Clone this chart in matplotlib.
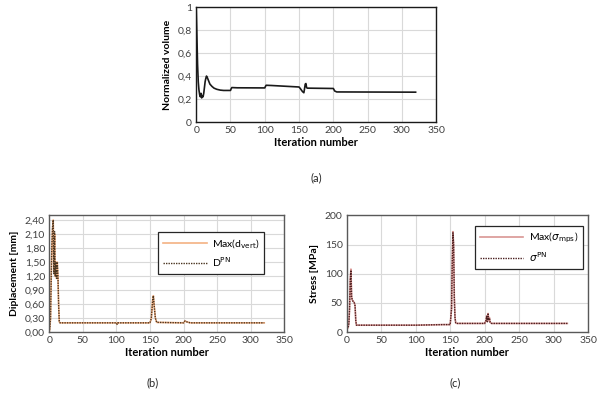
import numpy as np
import matplotlib
matplotlib.use('Agg')
import matplotlib.pyplot as plt
from matplotlib.ticker import FuncFormatter

plt.rcParams['font.family'] = ['Lato', 'DejaVu Sans']
plt.rcParams['mathtext.fontset'] = 'dejavusans'

# (a) normalized volume history
vol_iter = [0, 1, 2, 3, 4, 5, 6, 7, 8, 9, 10, 11, 12, 13, 14, 15, 16, 18, 20, 23, 26, 30,
            35, 40, 50, 51, 52, 60, 100, 101, 102, 110, 150, 152, 155, 157, 158, 159, 160,
            161, 162, 200, 202, 205, 320]
vol_val = [1.0, 0.75, 0.5, 0.35, 0.28, 0.24, 0.22, 0.25, 0.21, 0.23, 0.22, 0.25, 0.30, 0.35,
           0.38, 0.40, 0.39, 0.36, 0.33, 0.31, 0.295, 0.285, 0.278, 0.275, 0.275, 0.29, 0.30,
           0.298, 0.297, 0.31, 0.32, 0.318, 0.305, 0.29, 0.265, 0.255, 0.29, 0.33, 0.335,
           0.30, 0.295, 0.292, 0.27, 0.262, 0.26]

# (b) displacement history
disp_iter = [0, 1, 2, 3, 4, 5, 6, 7, 8, 9, 10, 11, 12, 13, 14, 15, 16, 60, 100, 101, 102,
             150, 152, 154, 155, 156, 158, 160, 200, 202, 205, 210, 320]
disp_max = [0.0, 0.1, 0.3, 1.2, 1.8, 2.2, 2.4, 1.3, 2.1, 1.2, 1.5, 1.15, 1.5, 1.2, 0.6, 0.22,
            0.2, 0.2, 0.2, 0.17, 0.2, 0.2, 0.3, 0.7, 0.78, 0.6, 0.3, 0.21, 0.2, 0.24, 0.22,
            0.2, 0.2]
disp_pn = [0.0, 0.1, 0.3, 1.15, 1.9, 2.25, 2.4, 1.25, 2.15, 1.2, 1.5, 1.15, 1.5, 1.2, 0.6,
           0.22, 0.2, 0.2, 0.2, 0.17, 0.2, 0.2, 0.3, 0.7, 0.78, 0.6, 0.3, 0.21, 0.2, 0.24,
           0.22, 0.2, 0.2]

# (c) stress history
stress_iter = [0, 2, 3, 4, 5, 6, 7, 8, 9, 10, 11, 12, 13, 14, 100, 140, 150, 152, 153, 154,
               155, 156, 157, 158, 160, 200, 202, 203, 204, 205, 206, 207, 208, 210, 320]
stress_max = [5, 8, 15, 40, 90, 108, 60, 55, 53, 52, 50, 45, 20, 12, 12, 13, 13, 40, 120, 172,
              150, 60, 25, 16, 15, 15, 20, 28, 18, 32, 20, 25, 17, 15, 15]
stress_pn = [5, 8, 15, 40, 88, 106, 60, 55, 53, 52, 50, 45, 20, 12, 12, 13, 13, 40, 120, 170,
             150, 60, 25, 16, 15, 15, 20, 27, 18, 31, 20, 24, 17, 15, 15]

x_ticks = np.arange(0, 351, 50)


def comma(fmt):
    return FuncFormatter(lambda v, p: (fmt % v).replace('.', ','))


def style_axes(ax, edge):
    ax.set_xlim(0, 350)
    ax.set_xticks(x_ticks)
    ax.grid(True, color='#d9d9d9', linewidth=0.8)
    ax.set_axisbelow(True)
    ax.tick_params(length=0, labelsize=7.5, colors='#404040', pad=3)
    for s in ax.spines.values():
        s.set_color(edge)
        s.set_linewidth(1.0)
    ax.set_xlabel('Iteration number', fontsize=8, fontweight='bold', labelpad=1)


def add_legend(ax, anchor):
    leg = ax.legend(loc='upper left', bbox_to_anchor=anchor, borderaxespad=0, fontsize=7.5,
                    handlelength=4.2, handletextpad=0.5, fancybox=False,
                    edgecolor='#262626', framealpha=1, borderpad=0.45, labelspacing=0.45)
    leg.get_frame().set_linewidth(0.9)


fig = plt.figure(figsize=(6, 3.95), dpi=100)

ax_a = fig.add_axes([0.327, 0.691, 0.400, 0.291])
ax_a.plot(vol_iter, vol_val, color='#1a1a1a', linewidth=1.2)
style_axes(ax_a, '#1a1a1a')
ax_a.set_ylim(0, 1)
ax_a.set_yticks(np.arange(0, 1.01, 0.2))
ax_a.yaxis.set_major_formatter(FuncFormatter(
    lambda v, p: ('%g' % round(v, 1)).replace('.', ',')))
ax_a.set_ylabel('Normalized volume', fontsize=7.5, fontweight='bold')

ax_b = fig.add_axes([0.082, 0.159, 0.392, 0.296])
ax_b.plot(disp_iter, disp_max, color='#f4b183', linewidth=1.2, label=r'Max(d$_{\mathrm{vert}}$)')
ax_b.plot(disp_iter, disp_pn, color='#4a3520', linewidth=1.0, linestyle=(0, (1, 0.8)),
          label=r'D$^{\mathrm{PN}}$')
style_axes(ax_b, '#595959')
ax_b.set_ylim(0, 2.5)
ax_b.set_yticks(np.arange(0, 2.41, 0.3))
ax_b.yaxis.set_major_formatter(comma('%.2f'))
ax_b.set_ylabel('Diplacement [mm]', fontsize=7.5, fontweight='bold')
add_legend(ax_b, (0.464, 0.855))

ax_c = fig.add_axes([0.578, 0.159, 0.402, 0.296])
ax_c.plot(stress_iter, stress_max, color='#d99694', linewidth=1.2, label=r'Max($\sigma_{\mathrm{mps}}$)')
ax_c.plot(stress_iter, stress_pn, color='#4a2020', linewidth=1.0, linestyle=(0, (1, 0.8)),
          label=r'$\sigma^{\mathrm{PN}}$')
style_axes(ax_c, '#595959')
ax_c.set_ylim(0, 200)
ax_c.set_yticks(np.arange(0, 201, 50))
ax_c.set_ylabel('Stress [MPa]', fontsize=7.5, fontweight='bold')
add_legend(ax_c, (0.531, 0.906))

fig.text(0.527, 1 - 178 / 395, '(a)', ha='center', va='center', fontsize=8, color='#262626')
fig.text(0.255, 1 - 383 / 395, '(b)', ha='center', va='center', fontsize=8, color='#262626')
fig.text(0.758, 1 - 383 / 395, '(c)', ha='center', va='center', fontsize=8, color='#262626')

fig.savefig('out.png', dpi=100)
